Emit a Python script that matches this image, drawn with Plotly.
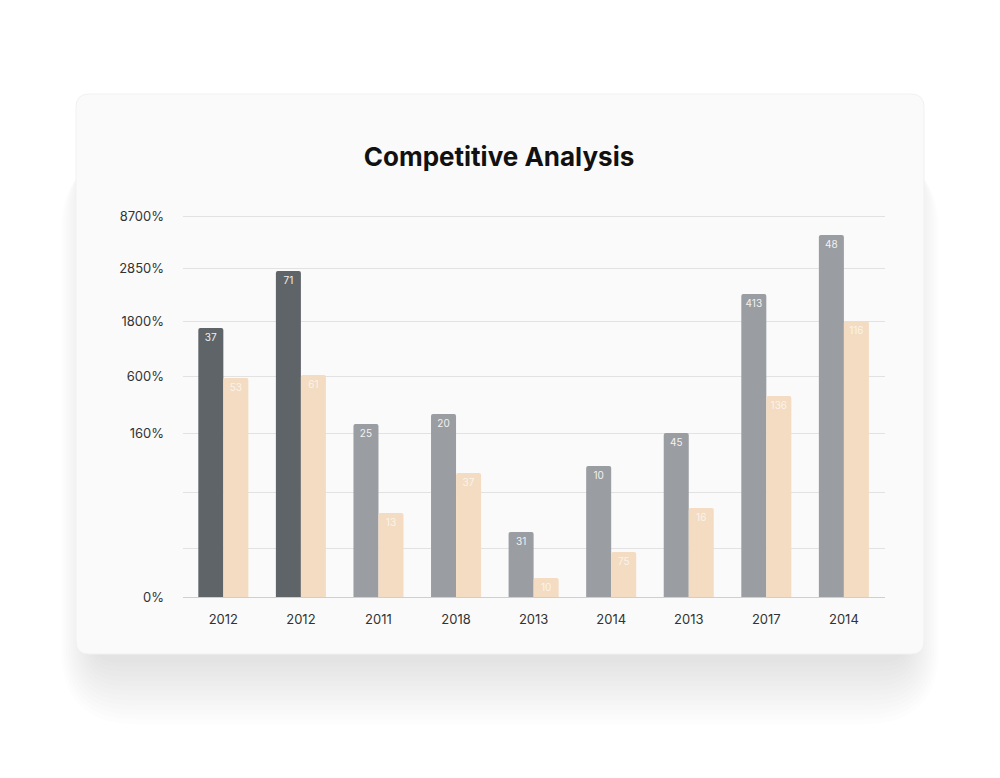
import plotly.graph_objects as go

# data
years = ["2012", "2012", "2011", "2018", "2013", "2014", "2013", "2017", "2014"]
# bar heights on the chart's (irregular) grid scale
competitor_a = [269, 326, 173, 183, 65, 131, 164, 303, 362]
competitor_b = [219, 222, 84, 124, 19, 45, 89, 201, 276]
labels_a = ["37", "71", "25", "20", "31", "10", "45", "413", "48"]
labels_b = ["53", "61", "13", "37", "10", "75", "16", "136", "116"]
grid_vals = [0, 49, 105, 164, 221, 276, 329, 381]
grid_text = ["0%", "", "", "160%", "600%", "1800%", "2850%", "8700%"]

W, H = 1000, 778
OFF = 8  # page offset of the figure (body margin)
PL, PR, PT, PB = 183, 885, 214, 597  # plot area in page pixels
Y_TOP = 383


def rounded_rect(x0, y0, x1, y1, r):
    # page-pixel box -> plot-area paper coords, rounded corners
    sx, sy = PR - PL, PB - PT
    rx, ry = r / sx, r / sy
    X0, X1 = (x0 - PL) / sx, (x1 - PL) / sx
    Y0, Y1 = (PB - y1) / sy, (PB - y0) / sy
    return (f"M{X0 + rx},{Y0} L{X1 - rx},{Y0} Q{X1},{Y0} {X1},{Y0 + ry} "
            f"L{X1},{Y1 - ry} Q{X1},{Y1} {X1 - rx},{Y1} "
            f"L{X0 + rx},{Y1} Q{X0},{Y1} {X0},{Y1 - ry} "
            f"L{X0},{Y0 + ry} Q{X0},{Y0} {X0 + rx},{Y0} Z")


x_pos = list(range(len(years)))
colors_a = ["#5f6468", "#5f6468"] + ["#9a9da1"] * (len(years) - 2)

fig = go.Figure()
fig.add_trace(go.Bar(
    x=x_pos, y=competitor_a, text=labels_a,
    marker=dict(color=colors_a, cornerradius=2, line_width=0),
    textposition="inside", insidetextanchor="end", constraintext="none",
    textfont=dict(color="#f2f2f2", size=10, family="Inter"),
    name="A",
))
fig.add_trace(go.Bar(
    x=x_pos, y=competitor_b, text=labels_b,
    marker=dict(color="#f3dcc2", cornerradius=2, line_width=0),
    textposition="inside", insidetextanchor="end", constraintext="none",
    textfont=dict(color="#fbf3ea", size=10, family="Inter"),
    name="B",
))

# soft card shadow, mostly below the card
shapes = []
for i in range(14):
    g = i * 4
    shapes.append(dict(
        type="path", xref="paper", yref="paper", layer="below",
        path=rounded_rect(92 - g * 0.6, 140 + g * 0.3, 908 + g * 0.6, 662 + g * 1.2, 24 + g),
        fillcolor="rgba(0,0,0,0.008)", line_width=0,
    ))
shapes.append(dict(
    type="path", xref="paper", yref="paper", layer="below",
    path=rounded_rect(76, 94, 924, 654, 13),
    fillcolor="#fafafa", line=dict(color="#f1f1f1", width=1),
))

fig.update_layout(
    width=W, height=H,
    paper_bgcolor="#ffffff", plot_bgcolor="rgba(0,0,0,0)",
    margin=dict(l=PL - OFF, r=W - (PR - OFF), t=PT - OFF, b=H - (PB - OFF), pad=0),
    barmode="group", bargap=0.355, bargroupgap=0,
    showlegend=False,
    shapes=shapes,
    title=dict(text="<b>Competitive Analysis</b>", x=(499 - OFF) / W, xanchor="center",
               y=1 - (157 - OFF) / H, yanchor="middle",
               font=dict(family="Inter", size=26, color="#111111")),
    font=dict(family="Inter", color="#333333"),
)
fig.update_xaxes(
    tickvals=x_pos, ticktext=years, range=[-0.52, len(years) - 0.47],
    showgrid=False, zeroline=False, showline=True, linecolor="#cfcfcf", linewidth=1,
    ticks="", tickfont=dict(size=13, color="#333333"), ticklabelstandoff=10,
)
fig.update_yaxes(
    tickvals=grid_vals, ticktext=grid_text, range=[0, Y_TOP],
    showgrid=True, gridcolor="#e2e2e2", gridwidth=1, zeroline=False,
    ticks="", tickfont=dict(size=13, color="#333333"), ticklabelstandoff=18,
)

fig.write_html("out.html")
